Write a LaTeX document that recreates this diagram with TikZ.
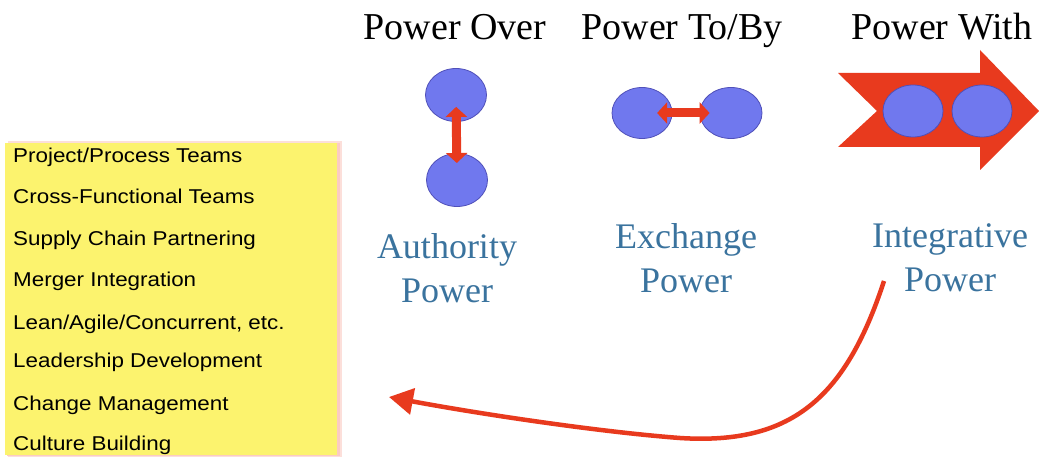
\documentclass[tikz,border=0pt]{standalone}
\usepackage{fontspec}
\setmainfont{Liberation Serif}
\newfontfamily\listfont[FakeStretch=1.12]{Liberation Sans}
\usetikzlibrary{shapes.geometric,arrows.meta,calc}
\definecolor{blobfill}{RGB}{112,120,238}
\definecolor{blobline}{RGB}{80,80,185}
\definecolor{arrred}{RGB}{232,58,30}
\definecolor{labblue}{RGB}{58,115,158}
\definecolor{boxyellow}{RGB}{252,243,110}
\definecolor{boxshadow}{RGB}{250,190,180}
\tikzset{
  blob/.style={ellipse, fill=blobfill, draw=blobline, line width=0.8pt, inner sep=0pt,
               minimum width=61pt, minimum height=53pt},
  dbl/.style={arrred, line width=9pt,
              {Triangle[length=10pt,width=21pt]}-{Triangle[length=10pt,width=21pt]}},
  title/.style={font=\fontsize{38}{44}\selectfont, anchor=base},
  lab/.style={font=\fontsize{36}{44}\selectfont, text=labblue, align=center},
  item/.style={font=\listfont\fontsize{20}{24}\selectfont, anchor=base west, inner sep=0pt},
  curve/.style={arrred, line width=4.5pt, -{Triangle[length=24pt,width=26pt]}}
}
\begin{document}
\begin{tikzpicture}[x=1pt,y=-1pt]
\useasboundingbox (0,0) rectangle (1039,457);
\fill[white] (0,0) rectangle (1039,457);
% yellow list box with soft shadow
\fill[boxshadow!50] (8,141) rectangle (342,457);
\fill[boxshadow!80] (7,143) rectangle (340,456);
\node[fill=boxyellow, minimum width=332pt, minimum height=312pt, inner sep=0pt, anchor=north west] (box) at (5,143) {};
\node[item] (l1) at (13,163) {Project/Process Teams};
\node[item] (l2) at (13,204) {Cross-Functional Teams};
\node[item] (l3) at (13,246) {Supply Chain Partnering};
\node[item] (l4) at (13,287) {Merger Integration};
\node[item] (l5) at (13,329) {Lean/Agile/Concurrent, etc.};
\node[item] (l6) at (13,367) {Leadership Development};
\node[item] (l7) at (13,410) {Change Management};
\node[item] (l8) at (13,450) {Culture Building};
% titles
\node[title] (t1) at (455,40) {Power Over};
\node[title] (t2) at (682,40) {Power To/By};
\node[title] (t3) at (942,40) {Power With};
% authority
\node[blob] (a1) at (456,95) {};
\node[blob] (a2) at (457,180) {};
\draw[dbl] ($(a1.center)!0.14!(a2.center)$) -- ($(a1.center)!0.80!(a2.center)$);
% exchange
\node[blob, minimum width=60pt, minimum height=51pt] (e1) at (642,113) {};
\node[blob, minimum width=62pt, minimum height=51pt] (e2) at (731,113) {};
\draw[dbl] ($(e1.center)!0.17!(e2.center)$) -- ($(e1.center)!0.76!(e2.center)$);
% power with arrow
\fill[arrred] (838,73) -- (980,73) -- (980,50) -- (1039,111) -- (980,170) -- (980,147) -- (838,147) -- (877,111) -- cycle;
\node[blob, minimum width=60pt, minimum height=52pt] (w1) at (913,111) {};
\node[blob, minimum width=60pt, minimum height=52pt] (w2) at (982,111) {};
% labels
\node[lab] (la) at (447,268) {Authority\\Power};
\node[lab] (le) at (686,258) {Exchange\\Power};
\node[lab] (li) at (950,258) {Integrative\\Power};
% curved arrow
\coordinate (cs) at (884,281);
\coordinate (cm) at (680,438);
\coordinate (ce) at (389,397);
\draw[curve] (cs) .. controls (845,400) and (790,445) .. (cm) .. controls (600,432) and (480,414) .. (ce);
\end{tikzpicture}
\end{document}
